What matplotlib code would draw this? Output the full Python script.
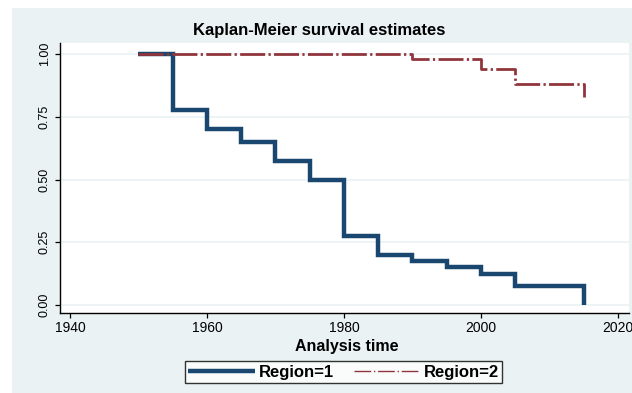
import matplotlib
matplotlib.use("Agg")
import matplotlib.pyplot as plt
from matplotlib.patches import Rectangle
from matplotlib.lines import Line2D

# Kaplan-Meier step estimates by region
region1_time = [1950, 1955, 1960, 1965, 1970, 1975, 1980, 1985, 1990, 1995, 2000, 2005, 2015]
region1_surv = [1.0, 0.775, 0.70, 0.65, 0.575, 0.50, 0.275, 0.20, 0.175, 0.15, 0.125, 0.075, 0.0]
region2_time = [1950, 1990, 2000, 2005, 2015]
region2_surv = [1.0, 0.98, 0.94, 0.88, 0.83]

x_ticks = [1940, 1960, 1980, 2000, 2020]
y_ticks = [0.00, 0.25, 0.50, 0.75, 1.00]
y_tick_labels = ["0.00", "0.25", "0.50", "0.75", "1.00"]
labels = ["Region=1", "Region=2"]

FONT = ["Liberation Sans", "DejaVu Sans"]
NAVY = "#1a476f"
MAROON = "#90353b"
BG = "#eaf2f3"

W, H = 632, 393
fig = plt.figure(figsize=(W / 100, H / 100), dpi=100)
fig.patch.set_facecolor("white")
fig.add_artist(Rectangle((12 / W, 0), 1, (H - 8) / H, transform=fig.transFigure,
                         facecolor=BG, edgecolor="none", zorder=-5))

ax = fig.add_axes([60 / W, (H - 313) / H, 569 / W, 270 / H])
ax.set_zorder(1)
ax.set_facecolor("white")

ax.step(region1_time, region1_surv, where="post", color=NAVY, lw=3.2,
        solid_capstyle="butt", solid_joinstyle="miter", zorder=3)
ax.step(region2_time, region2_surv, where="post", color=MAROON, lw=2.0,
        dashes=(9, 1.2, 0.8, 1.2), dash_capstyle="butt", zorder=4)

ax.set_xlim(1938.55, 2021.6)
ax.set_ylim(-0.032, 1.044)
ax.set_xticks(x_ticks)
ax.set_yticks(y_ticks)
ax.set_yticklabels(y_tick_labels, rotation=90, va="center")
for lab in ax.get_xticklabels():
    lab.set_fontfamily(FONT)
    lab.set_fontsize(10)
for lab in ax.get_yticklabels():
    lab.set_fontfamily(FONT)
    lab.set_fontsize(9)
ax.tick_params(axis="both", direction="out", length=3.5, width=0.9, color="black", pad=3)
ax.tick_params(axis="x", pad=2)

ax.grid(axis="y", color=BG, lw=1.2, zorder=1)
ax.grid(axis="x", visible=False)
for side in ("top", "right"):
    ax.spines[side].set_visible(False)
for side in ("left", "bottom"):
    ax.spines[side].set_linewidth(1.0)
    ax.spines[side].set_color("black")

fig.text(319 / W, 1 - 30 / H, "Kaplan-Meier survival estimates", ha="center", va="center",
         fontsize=12, fontweight="bold", family=FONT)
fig.text(347 / W, 1 - 347 / H, "Analysis time", ha="center", va="center",
         fontsize=11.5, fontweight="bold", family=FONT)

handles = [Line2D([], [], color=NAVY, lw=3.2, solid_capstyle="butt"),
           Line2D([], [], color=MAROON, lw=1.0, dashes=(12, 2, 1, 2))]
leg = fig.legend(handles, labels, loc="center", bbox_to_anchor=(343.5 / W, 1 - 372 / H),
                 ncol=2, frameon=True, fancybox=False, edgecolor="black",
                 prop={"family": FONT, "weight": "bold", "size": 12},
                 handlelength=4.0, handletextpad=0.2, columnspacing=1.2,
                 borderpad=0.2, borderaxespad=0)
leg.get_frame().set_linewidth(1.0)
leg.get_frame().set_facecolor("white")

fig.savefig("out.png", dpi=100)
